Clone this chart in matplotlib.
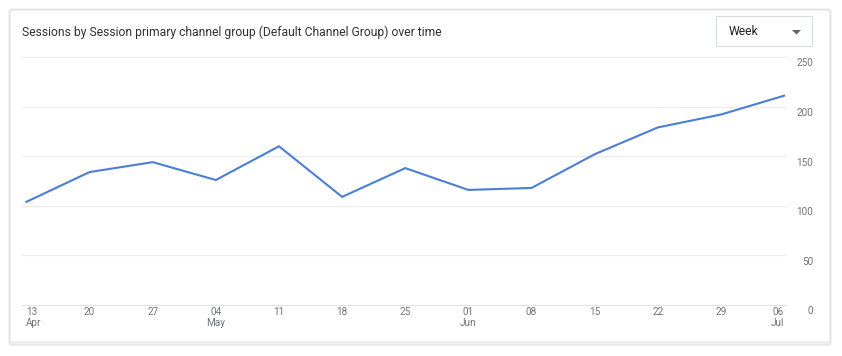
import matplotlib.pyplot as plt
from matplotlib.patches import FancyBboxPatch, Rectangle, Polygon

plt.rcParams['font.family'] = ['Roboto', 'DejaVu Sans']

# weekly sessions
days = ['13', '20', '27', '04', '11', '18', '25', '01', '08', '15', '22', '29', '06']
months = ['Apr', '', '', 'May', '', '', '', 'Jun', '', '', '', '', 'Jul']
sessions = [104, 134, 144, 126, 160, 109, 138, 116, 118, 152, 179, 192, 211]
yticks = [0, 50, 100, 150, 200, 250]

W, H = 842, 356
fig = plt.figure(figsize=(W / 100, H / 100), dpi=100)
fig.patch.set_facecolor('white')

def fx(px):
    return px / W

def fy(py):
    return 1 - py / H

# card with soft shadow (a bit heavier at the bottom)
for i, a in enumerate([0.06, 0.035, 0.02]):
    fig.patches.append(FancyBboxPatch((fx(10 - i * 0.5), fy(344 + i)), fx(820 + i), (334 + 1.5 * i) / H,
                                      boxstyle='round,pad=0,rounding_size=0.004',
                                      transform=fig.transFigure, facecolor='none',
                                      edgecolor=(0, 0, 0, a), lw=1.5, zorder=0))
fig.patches.append(FancyBboxPatch((fx(10), fy(342)), fx(820), 332 / H,
                                  boxstyle='round,pad=0,rounding_size=0.004',
                                  transform=fig.transFigure, facecolor='white',
                                  edgecolor='#e3e3e3', lw=0.8, zorder=1))

fig.text(fx(22), fy(32), 'Sessions by Session primary channel group (Default Channel Group) over time',
         fontsize=8.7, color='#303134', va='center', ha='left', zorder=3)

# week dropdown
fig.patches.append(Rectangle((fx(716), fy(46)), fx(96), 30 / H, transform=fig.transFigure,
                             facecolor='white', edgecolor='#dadce0', lw=0.8, zorder=2))
fig.text(fx(729), fy(31.5), 'Week', fontsize=8.7, color='#202124', va='center', ha='left', zorder=3)
fig.patches.append(Polygon([(fx(792), fy(30)), (fx(801), fy(30)), (fx(796.5), fy(34.5))],
                           closed=True, transform=fig.transFigure, facecolor='#5f6368',
                           edgecolor='none', zorder=3))

ax = fig.add_axes([fx(22), fy(305), fx(786 - 22), (305 - 57) / H])
ax.set_zorder(5)
ax.set_facecolor('none')
x = list(range(len(sessions)))
ax.plot(x, sessions, color='#4a7fd4', lw=1.5, solid_joinstyle='miter', zorder=3)
ax.set_xlim(-0.07, len(sessions) - 1 + 0.03)
ax.set_ylim(0, 250)

lab_x = (813 - 22) / (786 - 22)
for v in yticks:
    ax.axhline(v, color='#ececec' if v else '#e2e2e2', lw=0.8, zorder=1, clip_on=False)
    ax.text(lab_x, v - 1.5, str(v), transform=ax.get_yaxis_transform(), fontsize=7.2, color='#70757a',
            ha='right', va='top', clip_on=False)

for i, (d, m) in enumerate(zip(days, months)):
    ha = 'left' if i == 0 else ('right' if i == len(days) - 1 else 'center')
    lbl = d + ('\n' + m if m else '')
    ax.text(i, -2.5, lbl, fontsize=7.2, color='#70757a', ha=ha, va='top', linespacing=1.05,
            clip_on=False)

for s in ax.spines.values():
    s.set_visible(False)
ax.set_xticks([])
ax.set_yticks([])

fig.savefig('out.png', dpi=100, facecolor='white')
